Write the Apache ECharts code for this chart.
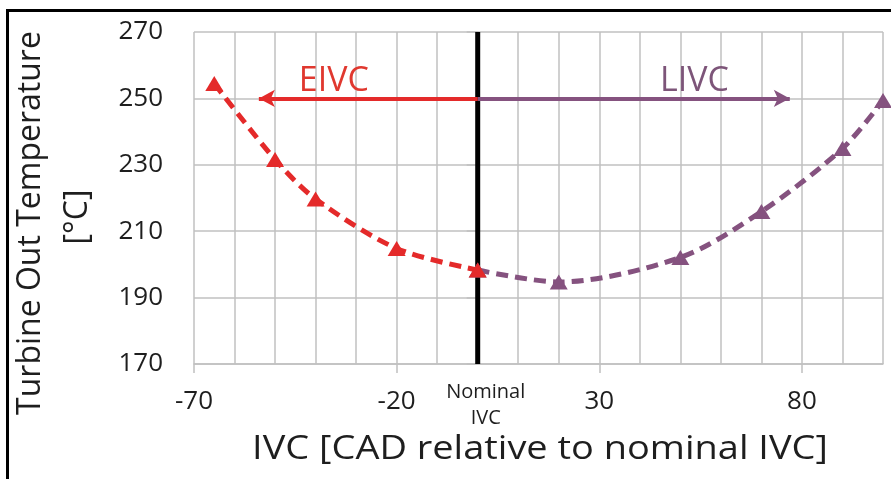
<!DOCTYPE html>
<html>
<head>
<meta charset="utf-8">
<script src="https://cdn.jsdelivr.net/npm/echarts@6/dist/echarts.min.js"></script>
<style>
  html, body { margin: 0; padding: 0; background: #fff; }
  #chart { width: 891px; height: 479px; }
</style>
</head>
<body>
<div id="chart"></div>
<script>
// ---- data ----
const eivcX = [-65, -50, -40, -20, 0];
const eivcY = [254.5, 231.6, 219.7, 204.8, 198.3];
const livcX = [0, 20, 50, 70, 90, 100];
const livcY = [198.3, 194.7, 202.1, 215.9, 234.9, 249.4];
const xTickValues = [-70, -20, 30, 80];
const yTickValues = [170, 190, 210, 230, 250, 270];
const nominalX = [0];
const nominalLabel = ['Nominal', 'IVC'];
const arrowY = [250];
const eivcArrowEnd = [-54];
const livcArrowEnd = [77];
const annotationText = ['EIVC', 'LIVC'];
const annotationX = [-35.5, 53.5];
const annotationY = [255.2, 255];
const xTitle = 'IVC [CAD relative to nominal IVC]';
const yTitle = ['Turbine Out Temperature', '[°C]'];

const RED = '#e42a2a';
const PURPLE = '#85527f';
const GRID = '#c0c0c0';
const FONT = 'Open Sans';
const TEXT = '#1e1e1e';

const chart = echarts.init(document.getElementById('chart'), null, { renderer: 'canvas' });

const xMin = -70, xMax = 100, yMin = 170, yMax = 270;

const option = {
  animation: false,
  backgroundColor: '#ffffff',
  grid: { left: 194, right: 8, top: 32, bottom: 115, containLabel: false },
  graphic: [
    {
      type: 'rect',
      shape: { x: 7.5, y: 10.5, width: 1000, height: 600 },
      style: { fill: 'none', stroke: '#000', lineWidth: 3 },
      silent: true, z: 100
    },
    {
      type: 'text', x: 540, y: 450, scaleX: 1.15, silent: true,
      style: { text: xTitle, fontFamily: FONT, fontSize: 33, fill: TEXT, textAlign: 'center', textVerticalAlign: 'middle' }
    },
    {
      type: 'text', x: 31, y: 223, rotation: Math.PI / 2, silent: true,
      style: { text: yTitle[0], fontFamily: FONT, fontSize: 32, fill: TEXT, textAlign: 'center', textVerticalAlign: 'middle' }
    },
    {
      type: 'text', x: 78, y: 217, rotation: Math.PI / 2, silent: true,
      style: { text: yTitle[1], fontFamily: FONT, fontSize: 32, fill: TEXT, textAlign: 'center', textVerticalAlign: 'middle' }
    }
  ],
  xAxis: [
    {
      type: 'value', min: xMin, max: xMax, interval: 10, position: 'bottom',
      axisLine: { show: true, lineStyle: { color: GRID, width: 1.5 } },
      axisTick: { show: false },
      axisLabel: { show: false },
      splitLine: { show: true, lineStyle: { color: GRID, width: 1.5 } }
    },
    {
      type: 'value', min: xMin, max: xMax, position: 'bottom',
      axisLine: { show: false },
      axisTick: { show: true, customValues: xTickValues, length: 9, lineStyle: { color: GRID, width: 1.5 } },
      axisLabel: { show: true, customValues: xTickValues, margin: 25, fontFamily: FONT, fontSize: 26, color: TEXT, lineHeight: 26 },
      splitLine: { show: false }
    },
    {
      type: 'value', min: xMin, max: xMax, position: 'bottom',
      axisLine: { show: false },
      axisTick: { show: false },
      axisLabel: {
        show: true, customValues: nominalX, margin: 15,
        formatter: function () { return nominalLabel.join('\n'); },
        fontFamily: FONT, fontSize: 20, lineHeight: 26, color: TEXT, padding: [0, 0, 0, 16]
      },
      splitLine: { show: false }
    }
  ],
  yAxis: {
    type: 'value', min: yMin, max: yMax,
    axisLine: { show: true, lineStyle: { color: GRID, width: 1.5 } },
    axisTick: { show: true, customValues: yTickValues, length: 11, lineStyle: { color: GRID, width: 1.5 } },
    axisLabel: { show: true, customValues: yTickValues, margin: 31, fontFamily: FONT, fontSize: 26, color: TEXT },
    splitLine: { show: true, lineStyle: { color: GRID, width: 1.5 } }
  },
  series: [
    {
      name: 'nominal', type: 'line', xAxisIndex: 0, z: 2,
      data: [[nominalX[0], yMin], [nominalX[0], yMax]],
      symbol: 'none',
      lineStyle: { color: '#000', width: 5 },
      silent: true
    },
    {
      name: 'LIVC', type: 'line', xAxisIndex: 0, z: 3,
      data: livcX.map((x, i) => [x, livcY[i]]),
      smooth: 0.3,
      symbol: 'triangle', symbolSize: [18, 15],
      itemStyle: { color: PURPLE },
      lineStyle: { color: PURPLE, width: 5, type: [12, 7] },
      markLine: {
        silent: true, symbol: ['none', 'arrow'], symbolSize: [13, 16],
        label: { show: false },
        lineStyle: { color: PURPLE, width: 4, type: 'solid' },
        data: [[{ coord: [nominalX[0], arrowY[0]] }, { coord: [livcArrowEnd[0], arrowY[0]] }]]
      },
      markPoint: {
        silent: true, symbol: 'circle', symbolSize: 1,
        itemStyle: { color: 'rgba(0,0,0,0)' },
        label: { show: true, position: 'inside', color: '#7d5579', fontFamily: FONT, fontSize: 34, formatter: (p) => p.name },
        data: [{ name: annotationText[1], coord: [annotationX[1], annotationY[1]] }]
      }
    },
    {
      name: 'EIVC', type: 'line', xAxisIndex: 0, z: 4,
      data: eivcX.map((x, i) => [x, eivcY[i]]),
      smooth: 0.3,
      symbol: 'triangle', symbolSize: [18, 15],
      itemStyle: { color: RED },
      lineStyle: { color: RED, width: 5, type: [12, 7] },
      markLine: {
        silent: true, symbol: ['none', 'arrow'], symbolSize: [13, 16],
        label: { show: false },
        lineStyle: { color: RED, width: 4, type: 'solid' },
        data: [[{ coord: [nominalX[0], arrowY[0]] }, { coord: [eivcArrowEnd[0], arrowY[0]] }]]
      },
      markPoint: {
        silent: true, symbol: 'circle', symbolSize: 1,
        itemStyle: { color: 'rgba(0,0,0,0)' },
        label: { show: true, position: 'inside', color: '#e0382f', fontFamily: FONT, fontSize: 34, formatter: (p) => p.name },
        data: [{ name: annotationText[0], coord: [annotationX[0], annotationY[0]] }]
      }
    }
  ]
};

chart.setOption(option);
</script>
</body>
</html>
